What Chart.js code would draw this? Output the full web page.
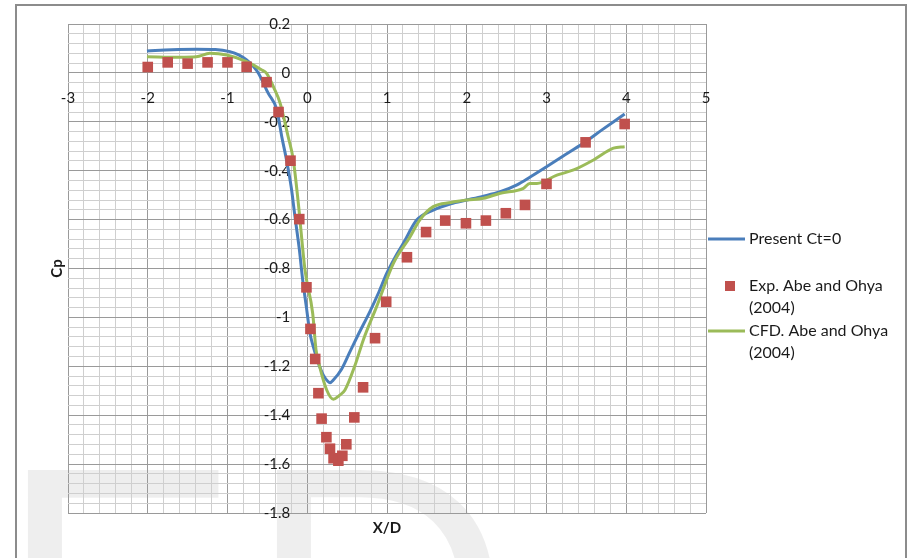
<!DOCTYPE html>
<html>
<head>
<meta charset="utf-8">
<script src="https://cdn.jsdelivr.net/npm/chart.js@4/dist/chart.umd.min.js"></script>
<style>
  html, body { margin: 0; padding: 0; background: #ffffff; }
  #wrap { width: 911px; height: 558px; }
</style>
</head>
<body>
<div id="wrap"><canvas id="cp" width="911" height="558"></canvas></div>
<script>
// Pressure coefficient along the centreline, X/D from -2 to 4
const presentX  = [-2.01, -1.7, -1.39, -1.15, -0.97, -0.86, -0.76, -0.68, -0.61, -0.49, -0.38, -0.32, -0.26, -0.2, -0.154, -0.1, -0.057, -0.01, 0.034, 0.08, 0.126, 0.2, 0.26, 0.285, 0.33, 0.43, 0.536, 0.64, 0.787, 0.9, 0.996, 1.1, 1.205, 1.372, 1.58, 1.8, 2.0, 2.2, 2.42, 2.63, 2.8, 3.0, 3.2, 3.46, 3.7, 3.98];
const presentCp = [0.09, 0.095, 0.097, 0.096, 0.087, 0.074, 0.053, 0.028, -0.002, -0.083, -0.152, -0.26, -0.356, -0.47, -0.588, -0.72, -0.847, -0.96, -1.065, -1.125, -1.174, -1.235, -1.262, -1.267, -1.255, -1.212, -1.14, -1.07, -0.975, -0.895, -0.82, -0.755, -0.697, -0.602, -0.561, -0.535, -0.52, -0.505, -0.486, -0.458, -0.425, -0.384, -0.342, -0.288, -0.232, -0.168];

const expX  = [-2.0, -1.75, -1.5, -1.25, -1.0, -0.76, -0.51, -0.36, -0.21, -0.1, -0.01, 0.04, 0.1, 0.14, 0.18, 0.24, 0.285, 0.33, 0.39, 0.44, 0.49, 0.59, 0.7, 0.85, 0.99, 1.25, 1.49, 1.73, 1.99, 2.24, 2.49, 2.73, 3.0, 3.49, 3.98];
const expCp = [0.024, 0.043, 0.038, 0.043, 0.043, 0.025, -0.038, -0.16, -0.359, -0.598, -0.877, -1.047, -1.17, -1.31, -1.414, -1.49, -1.537, -1.576, -1.586, -1.566, -1.519, -1.409, -1.286, -1.085, -0.936, -0.754, -0.651, -0.604, -0.615, -0.604, -0.574, -0.54, -0.454, -0.284, -0.209];

const cfdX  = [-2.01, -1.6, -1.39, -1.22, -1.01, -0.76, -0.57, -0.51, -0.42, -0.34, -0.24, -0.175, -0.112, -0.028, 0.068, 0.11, 0.151, 0.244, 0.327, 0.4, 0.473, 0.6, 0.703, 0.87, 1.08, 1.29, 1.41, 1.58, 1.8, 2.0, 2.21, 2.42, 2.71, 2.79, 2.88, 3.13, 3.34, 3.59, 3.84, 3.98];
const cfdCp = [0.066, 0.064, 0.066, 0.08, 0.073, 0.046, 0.012, -0.002, -0.06, -0.124, -0.26, -0.356, -0.533, -0.806, -0.983, -1.133, -1.195, -1.297, -1.335, -1.32, -1.297, -1.195, -1.092, -0.956, -0.779, -0.67, -0.602, -0.547, -0.53, -0.52, -0.513, -0.492, -0.472, -0.452, -0.452, -0.418, -0.397, -0.356, -0.308, -0.302];

const xTickLabels = [-3, -2, -1, 0, 1, 2, 3, 4, 5];
const yTickLabels = [0.2, 0, -0.2, -0.4, -0.6, -0.8, -1, -1.2, -1.4, -1.6, -1.8];

const seriesNames = ['Present Ct=0', 'Exp. Abe and Ohya (2004)', 'CFD. Abe and Ohya (2004)'];

const BLUE = '#4A7EBB', RED = '#C0504D', GREEN = '#9BBB59';
const FONT = 'Lato, "Liberation Sans", sans-serif';

function toPoints(xs, ys) { return xs.map((x, i) => ({ x: x, y: ys[i] })); }
function isMultiple(v, step) { const q = v / step; return Math.abs(q - Math.round(q)) < 1e-6; }
function fmt(v) { return String(Math.round(v * 10) / 10); }

// Light lettering behind the plot, frame around the whole figure
const backdrop = {
  id: 'backdrop',
  beforeDraw(chart) {
    const c = chart.ctx;
    c.save();
    c.fillStyle = '#ffffff';
    c.fillRect(0, 0, chart.width, chart.height);
    c.fillStyle = 'rgba(0,0,0,0.065)';
    c.font = '365px "Liberation Sans", Arial, sans-serif';
    c.textBaseline = 'alphabetic';
    c.textAlign = 'left';
    c.fillText('E', -2, 721);
    c.fillText('D', 247, 721);
    c.strokeStyle = '#8c8c8c';
    c.lineWidth = 2;
    c.strokeRect(16, 5, 890, 600);
    c.restore();
  }
};

// Tick labels sit next to the axes that cross at the origin
const axisText = {
  id: 'axisText',
  beforeDatasetsDraw(chart) {
    const c = chart.ctx, xs = chart.scales.x, ys = chart.scales.y;
    const x0 = xs.getPixelForValue(0), y0 = ys.getPixelForValue(0);
    c.save();
    c.fillStyle = '#1a1a1a';
    c.font = '15px ' + FONT;
    c.textBaseline = 'middle';
    c.textAlign = 'center';
    xTickLabels.forEach(v => c.fillText(fmt(v), xs.getPixelForValue(v), y0 + 25));
    c.textAlign = 'right';
    yTickLabels.forEach(v => c.fillText(fmt(v), x0 - 17, ys.getPixelForValue(v)));
    c.restore();
  },
  afterDraw(chart) {
    const c = chart.ctx, a = chart.chartArea;
    c.save();
    c.fillStyle = '#1a1a1a';
    c.font = 'bold 15px ' + FONT;
    c.textAlign = 'center';
    c.textBaseline = 'middle';
    c.fillText('X/D', (a.left + a.right) / 2, a.bottom + 15);
    c.translate(57, (a.top + a.bottom) / 2);
    c.rotate(-Math.PI / 2);
    c.fillText('Cp', 0, 0);
    c.restore();

    // legend on the right
    c.save();
    c.font = '16px ' + FONT;
    c.fillStyle = '#1a1a1a';
    c.textAlign = 'left';
    c.textBaseline = 'middle';
    const lx = a.right + 2, tx = a.right + 43;
    c.lineWidth = 3;
    c.strokeStyle = BLUE;
    c.beginPath(); c.moveTo(lx, 239); c.lineTo(lx + 37, 239); c.stroke();
    c.fillText(seriesNames[0], tx, 239);
    c.fillStyle = RED;
    c.fillRect(lx + 17, 281, 10, 10);
    c.fillStyle = '#1a1a1a';
    c.fillText('Exp. Abe and Ohya', tx, 286);
    c.fillText('(2004)', tx, 308);
    c.strokeStyle = GREEN;
    c.beginPath(); c.moveTo(lx, 331); c.lineTo(lx + 37, 331); c.stroke();
    c.fillText('CFD. Abe and Ohya', tx, 331);
    c.fillText('(2004)', tx, 353);
    c.restore();
  }
};

new Chart(document.getElementById('cp'), {
  type: 'scatter',
  data: {
    datasets: [
      { label: seriesNames[1], data: toPoints(expX, expCp), showLine: false,
        pointStyle: 'rect', pointRadius: 7.5, pointHoverRadius: 7.5,
        backgroundColor: RED, borderColor: RED, borderWidth: 0, order: 0 },
      { label: seriesNames[2], data: toPoints(cfdX, cfdCp), showLine: true,
        borderColor: GREEN, borderWidth: 3, pointRadius: 0, tension: 0.3,
        cubicInterpolationMode: 'monotone', fill: false, order: 1 },
      { label: seriesNames[0], data: toPoints(presentX, presentCp), showLine: true,
        borderColor: BLUE, borderWidth: 3, pointRadius: 0, tension: 0.3,
        cubicInterpolationMode: 'monotone', fill: false, order: 2 }
    ]
  },
  options: {
    responsive: false,
    animation: false,
    devicePixelRatio: 1,
    layout: { padding: { left: 68, top: 24, right: 205, bottom: 45 } },
    plugins: { legend: { display: false }, tooltip: { enabled: false } },
    scales: {
      x: {
        type: 'linear', min: -3, max: 5,
        ticks: { stepSize: 0.2, display: false, autoSkip: false },
        border: { display: false },
        grid: {
          drawTicks: false,
          color: ctx => isMultiple(ctx.tick.value, 1) ? '#9a9a9a' : '#cfcfcf',
          lineWidth: 1
        }
      },
      y: {
        type: 'linear', min: -1.8, max: 0.2,
        ticks: { stepSize: 0.04, display: false, autoSkip: false },
        border: { display: false },
        grid: {
          drawTicks: false,
          color: ctx => isMultiple(ctx.tick.value, 0.2) ? '#9a9a9a' : '#cfcfcf',
          lineWidth: 1
        }
      }
    }
  },
  plugins: [backdrop, axisText]
});
</script>
</body>
</html>
